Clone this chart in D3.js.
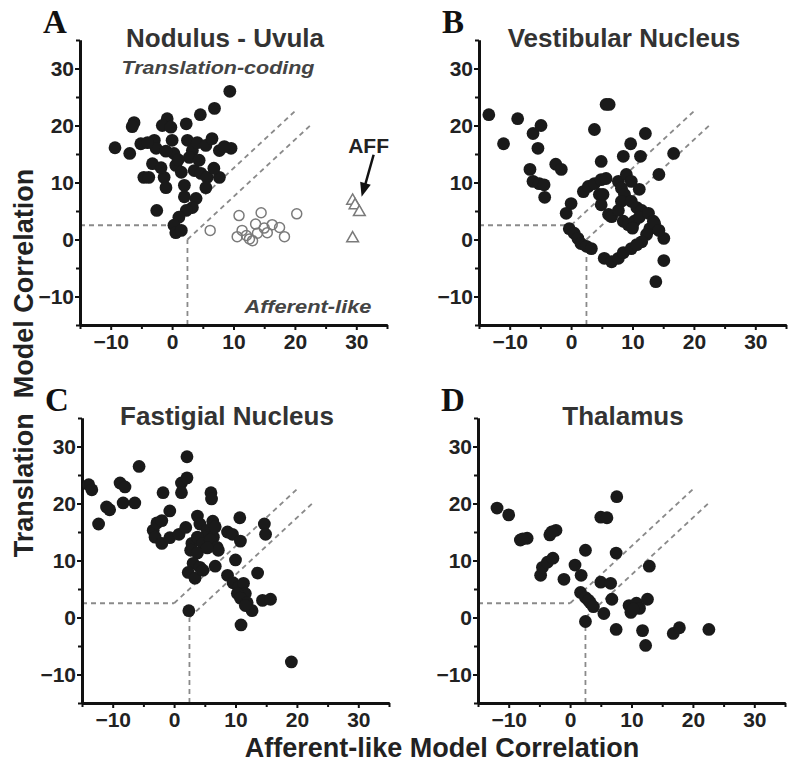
<!DOCTYPE html>
<html>
<head>
<meta charset="utf-8">
<script src="https://cdn.jsdelivr.net/npm/d3@7/dist/d3.min.js"></script>
<style>
  html, body { margin: 0; padding: 0; background: #fff; }
  svg { display: block; }
</style>
</head>
<body>
<svg id="chart" width="800" height="772"></svg>
<script>
// ---------------- DATA ----------------
const majorTicks = [-10, 0, 10, 20, 30];
const minorTicks = [-15, -5, 5, 15, 25, 35];
const axisDomain = [-15, 35];

const panelLetters = ["A", "B", "C", "D"];
const panelTitles = ["Nodulus - Uvula", "Vestibular Nucleus", "Fastigial Nucleus", "Thalamus"];
const yAxisTitle = "Translation\u00a0\u00a0Model Correlation";
const xAxisTitle = "Afferent-like Model Correlation";
const regionLabels = ["Translation-coding", "Afferent-like"];
const affLabel = "AFF";

// significance boundary (dashed) segments: [x1, y1, x2, y2]
const boundaryLines = [
  [-15, 2.5, 0, 2.5],
  [2.5, -15, 2.5, 0],
  [0, 2.5, 20, 22.5],
  [2.5, 0, 22.5, 20]
];

// Panel A — Nodulus/Uvula
const nodulusFilled = [
  [9.4,26.0],[6.9,23.0],[4.6,21.9],[2.3,20.3],[-0.8,21.2],[-1.6,20.0],[-0.2,19.7],[-6.2,20.5],[-6.5,19.8],
  [-9.3,16.1],[-6.9,15.1],[-5.1,16.8],[-2.9,17.4],[-2.6,16.0],[-3.2,13.3],[-4.6,10.9],[-3.8,10.9],[-1.3,10.9],
  [-1.0,9.1],[-2.5,5.1],[0.0,17.4],[0.3,15.1],[0.6,13.0],[1.5,11.8],[2.5,17.4],[3.3,15.6],[2.8,14.4],
  [4.1,17.0],[5.5,16.5],[6.5,17.7],[7.7,15.6],[9.6,16.0],[8.5,16.3],[3.6,12.1],[4.7,11.6],[5.7,10.9],
  [7.7,10.9],[5.5,9.1],[3.9,7.2],[3.3,5.6],[2.3,5.1],[1.1,3.9],[0.3,2.5],[0.6,1.2],[1.5,1.6],
  [2.0,9.5],[-1.8,12.6],[1.0,14.0],[-1.0,15.5],[-4.0,17.0],[4.4,13.9],[6.8,12.5],[2.0,7.5]
];
const nodulusOpen = [
  [6.2,1.6],[10.9,4.2],[14.5,4.7],[20.3,4.5],[13.6,2.7],[16.3,2.6],[17.5,2.1],[18.3,0.5],
  [10.6,0.5],[12.1,0.7],[12.6,0.1],[13.9,1.1],[15.5,1.2],[11.4,1.6],[13.1,-0.2],[15.0,2.0]
];
const afferents = [[29.4,6.8],[29.8,6.0],[30.5,4.8],[29.4,0.2]];

// Panel B — Vestibular Nucleus
const vestibular = [
  [-13.4,21.9],[-11.0,16.8],[-8.7,21.2],[-6.2,18.6],[-4.9,20.0],[-5.4,16.0],[-6.7,12.3],[-6.2,10.2],
  [-5.2,9.8],[-4.4,9.6],[-4.3,7.4],[-2.5,13.2],[-1.6,12.3],[3.8,19.3],[5.7,23.7],[6.2,23.7],[4.9,13.7],
  [8.5,14.6],[9.7,16.8],[12.1,18.6],[11.3,14.6],[16.7,15.1],[14.3,11.4],[0.0,6.3],[-0.8,4.6],[-0.3,1.9],
  [0.5,1.1],[1.1,0.2],[1.6,-0.7],[2.5,-1.2],[3.3,-1.6],[2.0,8.4],[2.8,9.3],[3.8,9.8],[4.9,10.5],[5.7,10.7],
  [4.6,7.9],[4.9,6.1],[6.1,4.4],[7.7,10.2],[8.2,9.0],[8.7,7.9],[8.2,6.7],[6.6,4.0],[7.7,5.1],[8.5,3.2],
  [9.3,2.6],[10.3,3.2],[9.8,6.7],[10.7,5.6],[11.5,5.1],[11.1,3.9],[11.1,8.8],[12.6,4.6],[13.4,3.2],
  [12.8,1.9],[12.3,0.9],[11.5,-0.4],[15.1,0.2],[15.1,-3.7],[13.8,-7.4],[5.4,-3.3],[6.6,-3.9],[7.7,-3.3],
  [8.5,-2.3],[9.8,-1.6],[10.7,-0.9],[13.6,2.8],[14.3,1.6],[9.0,11.4],[9.8,10.2],[10.0,2.0],[5.2,7.9]
];

// Panel C — Fastigial Nucleus
const fastigial = [
  [-13.9,23.3],[-13.4,22.4],[-12.3,16.4],[-11.0,19.4],[-10.5,18.9],[-8.8,23.6],[-8.0,22.9],[-8.3,20.1],
  [-6.4,20.1],[-5.7,26.5],[-1.8,21.9],[-0.7,18.7],[2.1,28.2],[1.2,23.6],[2.1,24.5],[1.2,21.9],[6.0,21.9],
  [6.1,20.8],[-3.4,15.3],[-2.8,16.6],[-3.1,14.1],[-2.0,13.0],[-0.7,14.0],[0.8,14.6],[1.9,15.8],[3.8,17.8],
  [4.2,16.4],[6.3,16.9],[5.4,15.3],[5.1,14.1],[6.4,14.1],[6.7,15.9],[2.9,13.0],[3.8,14.1],[4.7,13.0],
  [5.9,13.6],[7.0,12.3],[7.2,11.8],[2.7,11.8],[3.8,11.3],[5.4,12.2],[3.1,9.5],[4.2,8.8],[6.7,9.0],
  [2.3,7.9],[3.4,6.9],[2.4,1.2],[8.7,15.0],[9.5,14.6],[10.7,17.5],[10.8,13.4],[10.0,10.1],[8.7,7.4],
  [9.6,6.1],[10.5,5.3],[11.3,6.0],[11.6,4.2],[10.3,4.2],[10.8,3.4],[11.9,2.6],[12.7,1.2],[11.6,2.1],
  [13.6,7.8],[14.7,16.4],[14.9,14.6],[14.4,3.0],[15.7,3.2],[10.9,-1.3],[19.1,-7.8],[4.7,8.3],[-2.0,17.0]
];

// Panel D — Thalamus
const thalamus = [
  [-11.9,19.2],[-10.0,18.0],[-8.1,13.6],[-7.0,13.9],[-7.7,13.8],[-3.3,14.5],[-2.3,15.3],[-3.0,15.0],
  [-4.8,7.4],[-4.5,8.8],[-3.7,9.7],[-2.8,10.4],[-1.0,6.7],[2.5,11.8],[0.8,9.2],[1.8,7.4],[7.6,21.2],
  [5.0,17.6],[6.0,17.5],[7.5,11.3],[12.9,9.0],[5.0,6.2],[6.6,6.0],[1.7,4.4],[2.5,3.5],[3.3,2.6],[3.0,3.0],
  [3.8,1.9],[5.5,0.7],[6.8,3.2],[2.5,-0.7],[9.6,2.1],[10.8,2.5],[9.9,0.9],[11.3,1.6],[10.3,1.5],[12.6,3.2],
  [7.5,-2.1],[11.8,-2.3],[12.3,-4.9],[16.8,-2.8],[17.8,-1.8],[22.6,-2.1]
];

const panelFilled = [nodulusFilled, vestibular, fastigial, thalamus];

// ---------------- LAYOUT ----------------
const svg = d3.select("#chart");
const W = 307, H = 285;
const origins = [[80, 40], [479, 40], [82, 418], [478, 418]];
const sansFont = "'Liberation Sans', Arial, sans-serif";
const serifFont = "'Liberation Serif', 'Times New Roman', serif";

panelFilled.forEach((pts, i) => {
  const [left, top] = origins[i];
  const g = svg.append("g").attr("transform", `translate(${left},${top})`);
  const x = d3.scaleLinear().domain(axisDomain).range([0, W]);
  const y = d3.scaleLinear().domain(axisDomain).range([H, 0]);

  // dashed boundaries
  g.selectAll("line.bound").data(boundaryLines).join("line")
    .attr("x1", d => x(d[0])).attr("y1", d => y(d[1]))
    .attr("x2", d => x(d[2])).attr("y2", d => y(d[3]))
    .attr("stroke", "#8a8a8a").attr("stroke-width", 1.8)
    .attr("stroke-dasharray", "5,4");

  // axes
  const styleAxis = sel => {
    sel.select(".domain").attr("stroke", "#111").attr("stroke-width", 3);
    sel.selectAll(".tick line").attr("stroke", "#111").attr("stroke-width", 2);
    sel.selectAll(".tick text").attr("fill", "#222")
      .style("font-family", sansFont).style("font-weight", "bold").style("font-size", "21px");
  };
  g.append("g").attr("transform", `translate(0,${H})`)
    .call(d3.axisBottom(x).tickValues(minorTicks).tickFormat("").tickSize(4).tickSizeOuter(0))
    .call(styleAxis);
  g.append("g").attr("transform", `translate(0,${H})`)
    .call(d3.axisBottom(x).tickValues(majorTicks).tickSize(5).tickPadding(4).tickSizeOuter(0))
    .call(styleAxis);
  g.append("g")
    .call(d3.axisLeft(y).tickValues(minorTicks).tickFormat("").tickSize(4).tickSizeOuter(0))
    .call(styleAxis);
  g.append("g")
    .call(d3.axisLeft(y).tickValues(majorTicks).tickSize(5).tickPadding(1).tickSizeOuter(0))
    .call(styleAxis);

  // open circles and triangles (panel A only)
  if (i === 0) {
    g.selectAll("circle.open").data(nodulusOpen).join("circle")
      .attr("cx", d => x(d[0])).attr("cy", d => y(d[1])).attr("r", 5)
      .attr("fill", "none").attr("stroke", "#7a7a7a").attr("stroke-width", 1.5);
    const tri = d3.symbol().type(d3.symbolTriangle).size(60);
    g.selectAll("path.tri").data(afferents).join("path")
      .attr("d", tri)
      .attr("transform", d => `translate(${x(d[0])},${y(d[1])})`)
      .attr("fill", "#fff").attr("stroke", "#7a7a7a").attr("stroke-width", 1.5);

    // AFF label and arrow
    const tip = afferents[0];
    const tx = x(tip[0]) + 9, ty = y(tip[1]) - 4;
    const sx = tx + 12, sy = ty - 42;
    g.append("line").attr("x1", sx).attr("y1", sy).attr("x2", tx + 3).attr("y2", ty - 10)
      .attr("stroke", "#111").attr("stroke-width", 2.5);
    const ang = Math.atan2(ty - sy, tx - sx);
    const L = 14, Wd = 5.5;
    const bx = tx - L * Math.cos(ang), by = ty - L * Math.sin(ang);
    g.append("path")
      .attr("d", `M${tx},${ty} L${bx + Wd * Math.sin(ang)},${by - Wd * Math.cos(ang)} L${bx - Wd * Math.sin(ang)},${by + Wd * Math.cos(ang)} Z`)
      .attr("fill", "#111");
    g.append("text").attr("x", sx - 5).attr("y", sy - 2).attr("text-anchor", "middle")
      .style("font-family", sansFont).style("font-weight", "bold").style("font-size", "21px")
      .attr("fill", "#222").text(affLabel);

    g.append("text").attr("x", 138).attr("y", 34).attr("text-anchor", "middle")
      .style("font-family", sansFont).style("font-weight", "bold").style("font-style", "italic")
      .style("font-size", "19px").attr("fill", "#444")
      .attr("textLength", 193).attr("lengthAdjust", "spacingAndGlyphs")
      .text(regionLabels[0]);
    g.append("text").attr("x", 228).attr("y", 273).attr("text-anchor", "middle")
      .style("font-family", sansFont).style("font-weight", "bold").style("font-style", "italic")
      .style("font-size", "19px").attr("fill", "#444")
      .attr("textLength", 127).attr("lengthAdjust", "spacingAndGlyphs")
      .text(regionLabels[1]);
  }

  // filled circles
  g.selectAll("circle.fill").data(pts).join("circle")
    .attr("cx", d => x(d[0])).attr("cy", d => y(d[1])).attr("r", 6.4)
    .attr("fill", "#1a1a1a");

  // title
  g.append("text").attr("x", 145).attr("y", 7).attr("text-anchor", "middle")
    .style("font-family", sansFont).style("font-weight", "bold").style("font-size", "26px")
    .attr("fill", "#333").text(panelTitles[i]);

  // panel letter
  g.append("text").attr("x", -37).attr("y", -7)
    .style("font-family", serifFont).style("font-weight", "bold").style("font-size", "33px")
    .attr("fill", "#111").text(panelLetters[i]);
});

// shared axis titles
svg.append("text")
  .attr("transform", "translate(33,363) rotate(-90)")
  .attr("text-anchor", "middle")
  .style("font-family", sansFont).style("font-weight", "bold").style("font-size", "27px")
  .attr("fill", "#222").text(yAxisTitle);
svg.append("text")
  .attr("x", 442).attr("y", 757).attr("text-anchor", "middle")
  .style("font-family", sansFont).style("font-weight", "bold").style("font-size", "27px")
  .attr("fill", "#222").text(xAxisTitle);
</script>
</body>
</html>
